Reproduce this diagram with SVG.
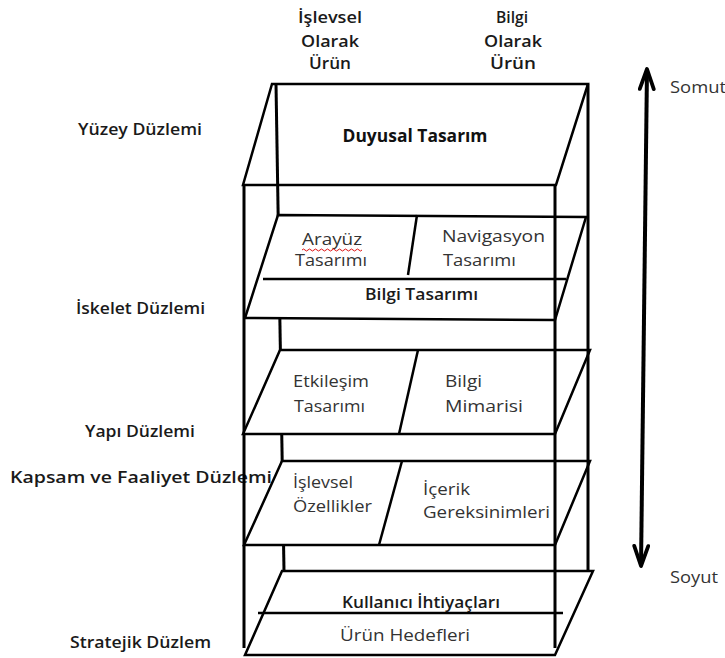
<svg xmlns="http://www.w3.org/2000/svg" width="725" height="658" viewBox="0 0 725 658">
  <style>
    .plane { fill: #fff; stroke: #000; stroke-width: 2.5; stroke-linejoin: miter; }
    .edge { stroke: #000; stroke-width: 2.5; fill: none; }
    .post { stroke: #000; stroke-width: 3; fill: none; }
    text { font-family: "Open Sans", "Noto Sans", sans-serif; font-size: 16px; }
    .lbl { fill: #1a1a1a; font-weight: 600; }
    .txt { fill: #333; }
    .sb { font-weight: 600; fill: #1a1a1a; }
    .mid { text-anchor: middle; }
  </style>
  <defs>
    <marker id="head" viewBox="0 0 26 18" refX="23" refY="9" markerWidth="26" markerHeight="18" markerUnits="userSpaceOnUse" orient="auto-start-reverse">
      <path d="M 3 2 L 23 9 L 3 16" fill="none" stroke="#000" stroke-width="3.8" stroke-linecap="round" stroke-linejoin="round"/>
    </marker>
  </defs>

  <!-- column headings -->
  <g id="col-islevsel" class="lbl mid">
    <text x="330" y="23" textLength="64" lengthAdjust="spacingAndGlyphs">İşlevsel</text>
    <text x="330" y="47" textLength="58" lengthAdjust="spacingAndGlyphs">Olarak</text>
    <text x="330" y="69" textLength="42" lengthAdjust="spacingAndGlyphs">Ürün</text>
  </g>
  <g id="col-bilgi" class="lbl mid">
    <text x="512" y="23" textLength="32" lengthAdjust="spacingAndGlyphs">Bilgi</text>
    <text x="513" y="47" textLength="58" lengthAdjust="spacingAndGlyphs">Olarak</text>
    <text x="513" y="69" textLength="46" lengthAdjust="spacingAndGlyphs">Ürün</text>
  </g>

  <!-- plane names on the left -->
  <g id="plane-labels" class="lbl">
    <text x="78" y="135" textLength="124" lengthAdjust="spacingAndGlyphs">Yüzey Düzlemi</text>
    <text x="76" y="314" textLength="129" lengthAdjust="spacingAndGlyphs">İskelet Düzlemi</text>
    <text x="85" y="437" textLength="110" lengthAdjust="spacingAndGlyphs">Yapı Düzlemi</text>
    <text x="10" y="483" textLength="262" lengthAdjust="spacingAndGlyphs">Kapsam ve Faaliyet Düzlemi</text>
    <text x="70" y="648" textLength="141" lengthAdjust="spacingAndGlyphs">Stratejik Düzlem</text>
  </g>

  <!-- frame posts behind the planes -->
  <g id="connectors">
    <line class="post" x1="244" y1="185" x2="244" y2="648" stroke="#555"/>
    <line class="post" x1="276" y1="84" x2="284" y2="571"/>
  </g>

  <!-- surface plane -->
  <g id="yuzey">
    <polygon class="edge" points="272,84 588,84 556,185 243,185"/>
    <text class="mid" x="415" y="142" textLength="145" lengthAdjust="spacingAndGlyphs" style="font-weight:700;fill:#111;font-size:17px">Duyusal Tasarım</text>
  </g>

  <!-- skeleton plane -->
  <g id="iskelet">
    <polygon class="plane" points="278,215 586,217 555,320 245,318"/>
    <line class="edge" x1="263" y1="279" x2="566" y2="279"/>
    <line class="edge" x1="417" y1="215" x2="408" y2="275"/>
    <text class="txt" x="302" y="245" textLength="60" lengthAdjust="spacingAndGlyphs">Arayüz</text>
    <path d="M 302 250 q 1.5 -2 3 0 t 3 0 t 3 0 t 3 0 t 3 0 t 3 0 t 3 0 t 3 0 t 3 0 t 3 0 t 3 0 t 3 0 t 3 0 t 3 0 t 3 0 t 3 0 t 3 0 t 3 0 t 3 0 t 3 0" fill="none" stroke="#d11" stroke-width="1"/>
    <text class="txt" x="295" y="266" textLength="72" lengthAdjust="spacingAndGlyphs">Tasarımı</text>
    <text class="txt" x="442" y="242" textLength="103" lengthAdjust="spacingAndGlyphs">Navigasyon</text>
    <text class="txt" x="443" y="266" textLength="73" lengthAdjust="spacingAndGlyphs">Tasarımı</text>
    <text class="sb" x="365" y="300" textLength="113" lengthAdjust="spacingAndGlyphs">Bilgi Tasarımı</text>
  </g>

  <!-- structure plane -->
  <g id="yapi">
    <polygon class="plane" points="280,350 590,350 555,434 243,434"/>
    <line class="edge" x1="418" y1="350" x2="399" y2="434"/>
    <text class="txt" x="293" y="387" textLength="76" lengthAdjust="spacingAndGlyphs">Etkileşim</text>
    <text class="txt" x="294" y="412" textLength="71" lengthAdjust="spacingAndGlyphs">Tasarımı</text>
    <text class="txt" x="445" y="387" textLength="37" lengthAdjust="spacingAndGlyphs">Bilgi</text>
    <text class="txt" x="445" y="412" textLength="78" lengthAdjust="spacingAndGlyphs">Mimarisi</text>
  </g>

  <!-- scope plane -->
  <g id="kapsam">
    <polygon class="plane" points="282,461 590,461 555,545 244,545"/>
    <line class="edge" x1="402" y1="461" x2="379" y2="545"/>
    <text class="txt" x="293" y="488" textLength="60" lengthAdjust="spacingAndGlyphs">İşlevsel</text>
    <text class="txt" x="293" y="512" textLength="79" lengthAdjust="spacingAndGlyphs">Özellikler</text>
    <text class="txt" x="423" y="495" textLength="47" lengthAdjust="spacingAndGlyphs">İçerik</text>
    <text class="txt" x="423" y="518" textLength="127" lengthAdjust="spacingAndGlyphs">Gereksinimleri</text>
  </g>

  <!-- strategy plane -->
  <g id="stratejik">
    <polygon class="plane" points="282,571 593,571 555,655 245,655"/>
    <line class="edge" x1="258" y1="613" x2="563" y2="613"/>
    <text class="sb" x="342" y="608" textLength="158" lengthAdjust="spacingAndGlyphs">Kullanıcı İhtiyaçları</text>
    <text class="txt" x="340" y="641" textLength="130" lengthAdjust="spacingAndGlyphs">Ürün Hedefleri</text>
  </g>

  <!-- frame posts in front of the planes -->
  <g id="posts-front">
    <line class="post" x1="555" y1="185" x2="555" y2="648"/>
    <line class="post" x1="588" y1="84" x2="588" y2="571"/>
  </g>

  <!-- concrete / abstract axis -->
  <g id="axis">
    <line x1="647" y1="69" x2="641" y2="566" stroke="#000" stroke-width="4" marker-start="url(#head)" marker-end="url(#head)"/>
    <text class="txt" x="670" y="93" textLength="56" lengthAdjust="spacingAndGlyphs">Somut</text>
    <text class="txt" x="670" y="583" textLength="48" lengthAdjust="spacingAndGlyphs">Soyut</text>
  </g>
</svg>
